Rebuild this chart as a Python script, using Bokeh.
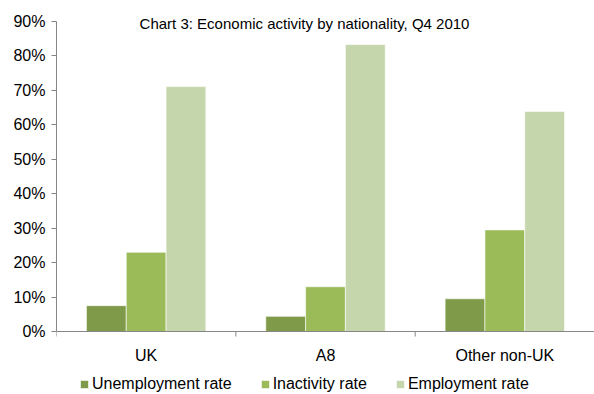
from bokeh.plotting import figure
from bokeh.models import Range1d, FixedTicker, Legend, LegendItem, Label, ColumnDataSource, Span
from bokeh.core.properties import value
from bokeh.embed import file_html
from bokeh.resources import INLINE

categories = ["UK", "A8", "Other non-UK"]
unemployment = [0.075, 0.044, 0.095]
inactivity = [0.23, 0.13, 0.295]
employment = [0.711, 0.833, 0.639]
series_names = ["Unemployment rate", "Inactivity rate", "Employment rate"]
colors = ["#7f9a48", "#9bbb59", "#c6d6ac"]
y_ticks = [0.0, 0.1, 0.2, 0.3, 0.4, 0.5, 0.6, 0.7, 0.8, 0.9]

FONT = "Liberation Sans"
AXIS_GREY = "#868686"
centers = [i + 0.5 for i in range(len(categories))]
bounds = list(range(len(categories) + 1))
bar_w = 0.222
px = 0.9 / 310.0  # value per pixel

p = figure(frame_width=538, frame_height=394, output_backend="svg", toolbar_location=None,
           x_range=Range1d(0, len(categories)), y_range=Range1d(-63 * px, 0.9 + 21 * px),
           min_border_left=56, min_border_right=0, min_border_top=0, min_border_bottom=0)
p.outline_line_color = None
p.xgrid.visible = False
p.ygrid.visible = False
p.xaxis.visible = False
p.background_fill_color = "white"
p.border_fill_color = "white"

renderers = []
for k, (vals, col) in enumerate(zip([unemployment, inactivity, employment], colors)):
    src = ColumnDataSource(dict(x=[c + (k - 1) * bar_w for c in centers], top=vals))
    r = p.vbar(x="x", top="top", width=bar_w, bottom=0, source=src,
               fill_color=col, line_color="white", line_width=0.6)
    renderers.append(r)

# category axis drawn at zero
p.add_layout(Span(location=0, dimension="width", line_color=AXIS_GREY, line_width=1))
p.segment(x0=bounds, y0=[0] * len(bounds), x1=bounds, y1=[-5 * px] * len(bounds),
          line_color=AXIS_GREY, line_width=1)
p.text(x=centers, y=[-24 * px] * len(centers), text=categories,
       text_font=value(FONT), text_font_size="16px", text_align="center",
       text_baseline="middle", text_color="#000000")

# y axis
ya = p.yaxis[0]
ya.ticker = FixedTicker(ticks=y_ticks)
ya.bounds = (0, 0.9)
ya.major_label_overrides = {t: f"{int(round(t * 100))}%" for t in y_ticks}
ya.major_label_text_font = FONT
ya.major_label_text_font_size = "16px"
ya.major_label_text_color = "#000000"
ya.axis_line_color = AXIS_GREY
ya.major_tick_line_color = AXIS_GREY
ya.major_tick_in = 0
ya.major_tick_out = 5
ya.minor_tick_line_color = None
ya.major_label_standoff = 6

title = Label(x=1.383, y=0.9, y_offset=-2, text="Chart 3: Economic activity by nationality, Q4 2010",
              text_font=FONT, text_font_size="15px", text_align="center",
              text_baseline="middle", text_color="#000000")
p.add_layout(title)

legend = Legend(items=[LegendItem(label=n, renderers=[r]) for n, r in zip(series_names, renderers)],
                orientation="horizontal", location=(23, 1),
                label_text_font=FONT, label_text_font_size="16px", label_height=16,
                label_text_color="#000000",
                glyph_width=10, glyph_height=10, spacing=28, padding=0, margin=0,
                label_standoff=3, border_line_color=None, background_fill_alpha=0)
p.add_layout(legend)

open("out.html", "w").write(file_html(p, INLINE))
